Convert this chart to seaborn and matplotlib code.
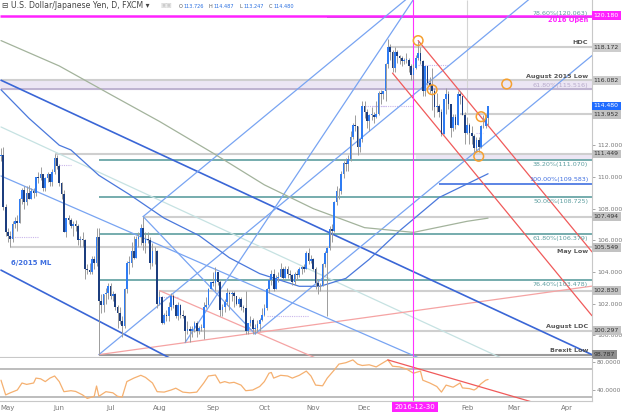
import numpy as np
import pandas as pd
import matplotlib.pyplot as plt
import matplotlib.transforms as mtransforms
import seaborn as sns

sns.set_theme(style="white")
plt.rcParams["font.family"] = ["DejaVu Sans"]

# daily USD/JPY candles, weekdays from 2016-04-27 to 2017-02-14
opens = [
    111.3, 111.4, 108.1,
    106.5, 106.3, 106.1, 107.0, 107.2, 107.1, 108.6, 109.2, 108.4, 109.0, 108.6,
    109.1, 109.0, 110.0, 109.9, 110.2, 109.3, 109.9, 110.2, 109.7, 110.3, 111.2,
    110.7, 109.6, 108.9, 106.5, 107.4, 107.3, 106.9, 107.0, 106.9, 106.0, 106.1,
    106.0, 104.2, 104.1, 104.0, 104.8, 104.6, 106.2, 102.2, 101.9, 102.6, 102.7,
    103.1, 102.5, 102.6, 101.8, 101.4, 100.9, 100.6, 102.9, 104.6, 104.6, 105.3,
    104.9, 106.1, 106.2, 106.8, 105.8, 106.1, 106.0, 104.6, 105.3, 105.3,
    102.0, 102.4, 100.8, 101.3, 101.2, 101.8, 102.5, 101.9, 101.2, 101.9, 101.3,
    101.2, 100.3, 100.4, 100.3, 100.4, 100.8, 100.3, 100.5, 100.5, 101.8, 101.9, 102.9,
    103.4, 103.3, 104.0, 103.4, 101.6, 101.8, 102.1, 102.7, 102.6, 102.7, 102.5,
    102.0, 102.3, 101.8, 101.7, 100.3, 100.8, 101.0, 100.4, 100.5, 100.7, 101.0,
    101.3, 101.7, 102.9, 103.5, 103.9, 102.9, 103.6, 103.7, 104.2, 103.6, 104.2,
    103.9, 103.8, 103.4, 103.9, 103.8, 104.2, 104.3, 104.2, 105.2, 104.7,
    104.8, 104.2, 103.3, 103.1, 103.1, 104.5, 105.2, 105.5, 106.7, 106.6, 108.4,
    109.1, 109.1, 110.2, 110.9, 110.8, 111.1, 112.5, 113.3, 113.2, 111.9, 112.4,
    114.5, 114.1, 113.5, 113.9, 113.9, 113.8, 114.0, 115.3, 115.2, 115.4, 117.1,
    118.17, 117.9, 116.9, 117.9, 117.6, 117.5, 117.3, 117.4, 117.4, 117.0, 116.4,
    116.9, 117.5, 117.8, 117.3, 115.4, 117.0, 115.9, 115.8, 115.4, 114.4, 114.5,
    114.1, 112.7, 114.9, 115.2, 114.6, 113.1, 113.8, 113.3, 115.2, 115.1, 113.9,
    112.8, 113.3, 112.8, 112.6, 111.8, 112.3, 111.9, 113.2, 113.2, 113.726,
]
highs = [
    111.8, 111.9, 108.3,
    106.8, 106.6, 107.2, 107.5, 107.6, 108.7, 109.3, 109.4, 109.4, 109.5, 109.3,
    109.3, 110.0, 110.3, 110.6, 110.2, 110.0, 110.3, 110.2, 110.5, 111.45, 111.4,
    110.8, 109.7, 109.2, 107.4, 107.6, 107.4, 107.2, 107.3, 107.0, 106.3, 106.5,
    106.1, 104.5, 104.6, 105.0, 105.0, 106.8, 106.8, 102.6, 102.6, 103.0, 103.3,
    103.3, 102.8, 102.7, 101.9, 101.8, 101.2, 103.0, 104.7, 105.0, 105.9, 106.3,
    106.3, 106.5, 107.0, 107.5, 106.5, 106.5, 106.2, 105.8, 105.6, 105.4,
    102.8, 102.5, 101.4, 101.6, 102.1, 102.7, 102.6, 102.0, 102.1, 102.0, 101.6,
    101.3, 100.9, 100.6, 100.6, 100.9, 100.9, 100.6, 100.7, 102.1, 102.4, 103.0, 103.4,
    104.0, 104.3, 104.0, 103.5, 102.0, 102.3, 103.0, 102.8, 102.8, 102.8, 102.5,
    102.4, 102.4, 101.9, 102.8, 100.8, 101.2, 101.1, 100.7, 101.0, 101.1, 101.7,
    102.0, 103.0, 103.6, 104.1, 104.2, 103.8, 104.0, 104.6, 104.3, 104.4, 104.4,
    104.1, 103.9, 104.0, 104.1, 104.3, 104.4, 104.5, 105.3, 105.5, 105.1,
    104.9, 104.3, 103.5, 103.3, 104.6, 105.3, 105.6, 106.9, 107.0, 108.5, 109.4,
    109.3, 110.4, 111.0, 111.2, 111.4, 112.9, 113.4, 113.9, 113.2, 112.4, 114.8,
    114.8, 114.3, 114.0, 114.4, 114.1, 114.8, 115.4, 115.5, 115.4, 117.2, 118.67,
    118.4, 118.0, 118.2, 118.0, 117.7, 117.6, 117.5, 117.8, 117.5, 117.1, 117.1,
    117.7, 118.6, 118.2, 117.4, 117.0, 117.0, 116.3, 116.9, 115.6, 115.3, 114.6,
    114.3, 114.9, 115.6, 115.4, 114.6, 114.0, 114.0, 115.4, 115.4, 115.1, 114.1,
    113.8, 113.4, 113.2, 112.7, 112.5, 112.5, 113.3, 113.9, 114.0, 114.487,
]
lows = [
    111.0, 107.9, 106.3,
    105.9, 105.55, 105.9, 106.8, 106.6, 107.1, 108.3, 108.0, 108.2, 108.6, 108.6,
    108.7, 108.8, 109.6, 109.8, 109.1, 109.1, 109.7, 109.4, 109.4, 110.2, 110.5,
    109.4, 108.6, 106.5, 106.2, 107.0, 106.8, 106.3, 106.6, 105.7, 105.6, 105.6,
    103.55, 103.9, 103.9, 103.9, 104.2, 104.4, 98.79, 101.4, 101.5, 102.0, 102.3,
    102.3, 102.2, 101.6, 100.5, 100.7, 99.9, 100.5, 102.7, 103.9, 104.3, 104.8,
    104.9, 105.6, 105.7, 105.4, 105.2, 105.8, 104.2, 104.4, 104.5, 101.7,
    101.9, 100.7, 100.7, 100.9, 100.9, 101.6, 101.7, 101.1, 101.0, 101.1, 101.1,
    99.6, 100.1, 99.6, 99.9, 100.2, 99.9, 100.1, 100.3, 99.8, 101.7, 101.9, 102.9,
    103.1, 102.8, 103.2, 101.2, 101.2, 101.5, 101.9, 101.6, 102.2, 101.8, 101.9,
    101.8, 101.6, 101.5, 100.1, 100.1, 100.6, 100.1, 100.1, 100.2, 100.3, 100.9,
    101.2, 101.6, 102.7, 103.2, 102.8, 102.9, 103.4, 103.7, 103.5, 103.6, 103.6,
    103.5, 103.2, 103.2, 103.5, 103.7, 103.9, 104.0, 104.2, 104.5, 104.6,
    104.1, 102.9, 102.6, 102.8, 103.1, 104.3, 101.2, 105.4, 105.9, 106.5, 108.2,
    108.6, 108.9, 109.9, 110.4, 110.4, 111.0, 112.4, 112.9, 111.4, 111.6, 112.2,
    113.7, 113.1, 112.9, 113.6, 113.4, 113.7, 113.9, 114.6, 114.9, 114.8, 116.9,
    117.4, 116.6, 116.6, 117.2, 117.1, 117.0, 117.1, 117.2, 116.6, 116.1, 116.1,
    116.8, 117.4, 117.1, 115.1, 115.1, 115.8, 115.3, 114.2, 113.8, 114.1, 113.8,
    112.6, 112.7, 114.0, 114.3, 112.5, 112.9, 113.0, 113.3, 114.6, 113.9, 112.1,
    112.7, 112.1, 112.1, 111.6, 111.6, 111.6, 111.8, 113.1, 113.1, 113.247,
]
closes = [
    111.4, 108.1, 106.5,
    106.3, 106.1, 107.0, 107.2, 107.1, 108.6, 109.2, 108.4, 109.0, 108.6, 109.1,
    109.0, 110.0, 109.9, 110.2, 109.3, 109.9, 110.2, 109.7, 110.3, 111.2, 110.7,
    109.6, 108.9, 106.5, 107.4, 107.3, 106.9, 107.0, 106.9, 106.0, 106.1, 106.0,
    104.2, 104.1, 104.0, 104.8, 104.6, 106.2, 102.2, 101.9, 102.6, 102.7, 103.1,
    102.5, 102.6, 101.8, 101.4, 100.9, 100.6, 102.9, 104.6, 104.6, 105.3, 104.9,
    106.1, 106.2, 106.8, 105.8, 106.1, 106.0, 104.6, 105.3, 105.3, 102.0,
    102.4, 100.8, 101.3, 101.2, 101.8, 102.5, 101.9, 101.2, 101.9, 101.3, 101.2,
    100.3, 100.4, 100.3, 100.4, 100.8, 100.3, 100.5, 100.5, 101.8, 101.9, 102.9, 103.4,
    103.3, 104.0, 103.4, 101.6, 101.8, 102.1, 102.7, 102.6, 102.7, 102.5, 102.0,
    102.3, 101.8, 101.7, 100.3, 100.8, 101.0, 100.4, 100.5, 100.7, 101.0, 101.3,
    101.7, 102.9, 103.5, 103.9, 102.9, 103.6, 103.7, 104.2, 103.6, 104.2, 103.9,
    103.8, 103.4, 103.9, 103.8, 104.2, 104.3, 104.2, 105.2, 104.7, 104.8,
    104.2, 103.3, 103.1, 103.1, 104.5, 105.2, 105.5, 106.7, 106.6, 108.4, 109.1,
    109.1, 110.2, 110.9, 110.8, 111.1, 112.5, 113.3, 113.2, 111.9, 112.4, 114.5,
    114.1, 113.5, 113.9, 113.9, 113.8, 114.0, 115.3, 115.2, 115.4, 117.1, 118.17,
    117.9, 116.9, 117.9, 117.6, 117.5, 117.3, 117.4, 117.4, 117.0, 116.4, 116.9,
    117.5, 117.8, 117.3, 115.4, 117.0, 115.9, 115.8, 115.4, 114.4, 114.5, 114.1,
    112.7, 114.9, 115.2, 114.6, 113.1, 113.8, 113.3, 115.2, 115.1, 113.9, 112.8,
    113.3, 112.8, 112.6, 111.8, 112.3, 111.9, 113.2, 113.2, 113.7, 114.480,
]

# RSI of the lower panel
rsi_dates = [
    "2016-04-27", "2016-04-29", "2016-05-03", "2016-05-06", "2016-05-10", "2016-05-12",
    "2016-05-17", "2016-05-18", "2016-05-20", "2016-05-24", "2016-05-26", "2016-05-30",
    "2016-06-01", "2016-06-03", "2016-06-08", "2016-06-10", "2016-06-15", "2016-06-17",
    "2016-06-22", "2016-06-23", "2016-06-24", "2016-06-29", "2016-07-04", "2016-07-06",
    "2016-07-08", "2016-07-12", "2016-07-15", "2016-07-20", "2016-07-22", "2016-07-27",
    "2016-07-29", "2016-08-03", "2016-08-08", "2016-08-10", "2016-08-15", "2016-08-18",
    "2016-08-23", "2016-08-26", "2016-08-30", "2016-09-02", "2016-09-06", "2016-09-08",
    "2016-09-12", "2016-09-14", "2016-09-19", "2016-09-21", "2016-09-26", "2016-09-29",
    "2016-10-03", "2016-10-05", "2016-10-06", "2016-10-07", "2016-10-12", "2016-10-17",
    "2016-10-19", "2016-10-24", "2016-10-27", "2016-10-31", "2016-11-02", "2016-11-07",
    "2016-11-09", "2016-11-14", "2016-11-16", "2016-11-21", "2016-11-24", "2016-11-28",
    "2016-11-30", "2016-12-05", "2016-12-08", "2016-12-13", "2016-12-15", "2016-12-19",
    "2016-12-22", "2016-12-27", "2016-12-30", "2017-01-04", "2017-01-05", "2017-01-10",
    "2017-01-13", "2017-01-17", "2017-01-19", "2017-01-24", "2017-01-27", "2017-01-30",
    "2017-02-02", "2017-02-06", "2017-02-07", "2017-02-09", "2017-02-13", "2017-02-14",
]
rsi_values = [
    54, 33, 36, 40, 50, 48,
    50, 57, 56, 52, 57, 60,
    52, 37.6, 39, 38, 33, 28,
    31, 45.7, 31, 37.6, 36, 31,
    30, 52, 57, 61, 58, 50,
    37.6, 37, 40, 42.6, 37, 36,
    37, 50, 60, 61.4, 50, 52,
    50, 51, 47, 39, 40, 45,
    52, 64, 65, 57, 61, 60,
    57, 61, 67, 60, 47, 46,
    57, 68.6, 77, 79, 83, 77,
    75, 76, 73, 79, 83, 74,
    73, 70, 64, 67, 54, 50,
    45, 37, 47, 44, 50, 43,
    42, 40, 42, 49, 54, 55,
]

# moving averages drawn on the price panel (read at a few dates)
ma_blue_dates = ["2016-04-27", "2016-05-13", "2016-06-01", "2016-06-08", "2016-06-24", "2016-07-13",
                 "2016-08-03", "2016-08-24", "2016-09-12", "2016-09-29", "2016-10-24", "2016-11-04",
                 "2016-11-21", "2016-12-05", "2016-12-22", "2017-01-16", "2017-02-14"]
ma_blue_values = [115.5, 113.7, 112.0, 111.7, 110.1, 108.9,
                  107.4, 106.3, 104.9, 103.9, 103.1, 103.1,
                  103.6, 104.8, 106.6, 108.7, 110.2]
ma_grey_dates = ["2016-04-27", "2016-06-01", "2016-07-01", "2016-08-01", "2016-09-01", "2016-10-03",
                 "2016-11-01", "2016-12-01", "2016-12-30", "2017-02-01", "2017-02-14"]
ma_grey_values = [118.6, 117.0, 115.2, 113.5, 111.5, 109.5,
                  108.0, 106.8, 106.5, 107.2, 107.4]

# horizontal levels (grey) with right-hand price tags
level_prices = [118.172, 116.082, 113.952, 111.449, 107.494, 105.549, 102.830, 100.297, 98.787]
level_starts = ["2016-12-15", "2016-04-27", "2017-01-27", "2016-05-30", "2016-07-21",
                "2016-05-03", "2016-08-01", "2016-08-18", "2016-06-24"]
level_names = ["HDC", "August 2015 Low", "", "", "", "May Low", "", "August LDC", "Brexit Low"]
name_below = ["May Low"]

# fibonacci levels
fib_prices = [120.063, 115.516, 111.070, 109.583, 108.725, 106.379, 103.478]
fib_starts = ["2016-11-09", "2016-04-27", "2016-06-24", "2017-01-16", "2016-06-24",
              "2016-06-24", "2016-06-24"]
fib_labels = ["78.60%(120.063)", "61.80%(115.516)", "38.20%(111.070)", "100.00%(109.583)",
              "50.00%(108.725)", "61.80%(106.379)", "76.40%(103.478)"]
fib_colors = ["#5e9ea0", "#b7aacb", "#5e9ea0", "#3f6fe0", "#5e9ea0", "#5e9ea0", "#5e9ea0"]
fib_above = [True, True, False, True, False, False, False]

# dotted reference marks
dot_starts = ["2016-05-02", "2016-06-01", "2016-08-01", "2016-10-04", "2016-12-01", "2016-12-06",
              "2017-01-03", "2017-02-07"]
dot_ends = ["2016-05-19", "2016-06-08", "2016-08-11", "2016-10-28", "2016-12-14", "2016-12-30",
            "2017-01-20", "2017-02-10"]
dot_prices = [106.2, 110.75, 102.4, 101.2, 114.5, 114.5, 117.05, 112.8]

# trend lines: start date, start price, second date, second price
red_lines = [("2017-01-03", 118.6, "2017-04-18", 105.2),
             ("2016-12-19", 116.55, "2017-04-18", 101.17)]
pink_lines = [("2016-06-24", 98.79, "2017-04-18", 103.12),
              ("2016-08-01", 102.83, "2016-11-01", 98.64)]
blue_dark = [("2016-04-27", 116.1, "2017-04-18", 98.76),
             ("2016-04-27", 104.12, "2016-08-11", 98.3)]
blue_mid = [("2016-04-27", 110.06, "2017-01-03", 98.6),
            ("2016-06-24", 98.79, "2017-02-08", 118.58),
            ("2016-07-21", 107.5, "2016-12-08", 119.64),
            ("2016-09-27", 100.1, "2017-02-14", 112.24),
            ("2016-08-16", 99.55, "2016-10-04", 107.28)]
blue_seg = [("2016-07-21", 107.5, "2016-09-27", 100.1)]
teal_light = [("2016-04-27", 113.15, "2016-12-22", 101.54)]
rsi_trend = ("2016-12-15", 83, "2017-03-08", 25.7)

circle_dates = ["2017-01-03", "2017-01-11", "2017-02-09", "2017-02-08", "2017-02-24"]
circle_prices = [118.6, 115.5, 113.8, 111.3, 115.86]

month_labels = ["May", "Jun", "Jul", "Aug", "Sep", "Oct", "Nov", "Dec", "", "Feb", "Mar", "Apr"]

# ---------------------------------------------------------------------------
days = pd.bdate_range("2016-04-27", "2017-04-28")
pos = {d: i for i, d in enumerate(days)}
def ix(day):
    return pos[pd.Timestamp(day)]

n = len(closes)
xs = np.arange(n)
x_left, x_right = -0.43, 253.6

fig = plt.figure(figsize=(6.24, 4.13), dpi=100)
ax = fig.add_axes([0, 1 - 357 / 413, 592 / 624, 357 / 413])
rax = fig.add_axes([0, 1 - 401 / 413, 592 / 624, 43 / 413])
for a in (ax, rax):
    a.set_xlim(x_left, x_right)
    a.set_facecolor("white")
    for s in ("top", "left"):
        a.spines[s].set_visible(False)
    for s in ("right", "bottom"):
        a.spines[s].set_color("#c8c8c8")
        a.spines[s].set_linewidth(0.8)
ax.set_ylim(98.64, 121.16)
rax.set_ylim(24.3, 85.7)

# ---- horizontal bands and levels ----
ax.axhspan(115.516, 116.082, color="#ece6f4", zorder=0.5)
ax.fill_between([ix("2017-01-02"), x_right], 111.2, 111.449, color="#ece6f4", zorder=0.5)
for p, s in zip(level_prices, level_starts):
    c = "#9a9a9a" if p == 98.787 else "#cfcfcf"
    ax.hlines(p, ix(s), x_right, color=c, lw=1.5, zorder=1)
for p, s, c in zip(fib_prices, fib_starts, fib_colors):
    ax.hlines(p, ix(s), x_right, color=c, lw=1.2, zorder=1.1)
ax.hlines(120.18, x_left, x_right, color="#ff22ff", lw=1.8, zorder=1.2)
for s, e, p in zip(dot_starts, dot_ends, dot_prices):
    ax.hlines(p, ix(s), ix(e), color="#c9b6ea", lw=0.8, linestyles=(0, (1, 1)), zorder=1)

# ---- moving averages ----
ma_blue = pd.DataFrame({"x": [ix(d) for d in ma_blue_dates], "v": ma_blue_values})
ma_grey = pd.DataFrame({"x": [ix(d) for d in ma_grey_dates], "v": ma_grey_values})
sns.lineplot(data=ma_blue, x="x", y="v", ax=ax, color="#4a78dc", lw=0.9, zorder=1.7)
sns.lineplot(data=ma_grey, x="x", y="v", ax=ax, color="#a3b39c", lw=0.9, zorder=1.7)

# ---- trend lines ----
def ray(a, line, end=None, **kw):
    d0, p0, d1, p1 = line
    x0, x1 = ix(d0), ix(d1)
    slope = (p1 - p0) / (x1 - x0)
    xe = x_right if end is None else x1
    a.plot([x0, xe], [p0, p0 + slope * (xe - x0)], **kw)

for ln in red_lines:
    ray(ax, ln, color="#f05a5a", lw=0.9, zorder=2)
for ln in pink_lines:
    ray(ax, ln, color="#f5a3a3", lw=0.9, zorder=1.5)
for ln in teal_light:
    ray(ax, ln, color="#c6e2e2", lw=0.9, zorder=1.4)
for ln in blue_dark:
    ray(ax, ln, color="#3a66d6", lw=1.2, zorder=1.6)
for ln in blue_mid:
    ray(ax, ln, color="#78a4f2", lw=0.9, zorder=1.6)
for ln in blue_seg:
    ray(ax, ln, end=True, color="#78a4f2", lw=0.9, zorder=1.6)

# ---- candles ----
o, h, l, c = map(np.array, (opens, highs, lows, closes))
up = c >= o
ax.vlines(xs, l, h, color="#9c9c9c", lw=0.7, zorder=3)
body_bot = np.minimum(o, c)
body_h = np.maximum(np.abs(c - o), 0.04)
ax.bar(xs[up], body_h[up], bottom=body_bot[up], width=0.72, color="#2f7cf3", zorder=4, linewidth=0)
ax.bar(xs[~up], body_h[~up], bottom=body_bot[~up], width=0.72, color="#1c3d7e", zorder=4, linewidth=0)

ax.scatter([ix(d) for d in circle_dates], circle_prices, s=48, facecolors="none",
           edgecolors="#f5a030", linewidths=1.1, zorder=6)

# date marker
vx = ix("2016-12-30")
for a in (ax, rax):
    a.axvline(vx, color="#ff33ff", lw=0.8, zorder=2.5)
ax.vlines(ix("2017-02-01"), 113.952, 121.16, color="#d4d4d4", lw=0.8, zorder=0.8)

# ---- axis ticks ----
ax.set_xlabel("")
ax.set_ylabel("")
ax.set_xticks([])
ax.yaxis.tick_right()
ax.set_yticks([100, 102, 104, 106, 108, 110, 112])
ax.set_yticklabels([f"{v:.3f}" for v in [100, 102, 104, 106, 108, 110, 112]])
ax.tick_params(axis="y", length=2.5, width=0.6, color="#999999", pad=1, labelsize=4.4,
               labelcolor="#777777")

month_pos = []
for m in pd.date_range("2016-05-01", "2017-04-01", freq="MS"):
    month_pos.append(ix(pd.bdate_range(m, m + pd.Timedelta(days=6))[0]))
rax.set_xticks(month_pos)
rax.set_xticklabels(month_labels)
rax.tick_params(axis="x", length=0, pad=3, labelsize=5, labelcolor="#777777")
rax.yaxis.tick_right()
rax.set_yticks([40, 80])
rax.set_yticklabels(["40.0000", "80.0000"])
rax.tick_params(axis="y", length=2.5, width=0.6, color="#999999", pad=1, labelsize=4.2,
                labelcolor="#777777")

# ---- RSI ----
rax.axhline(70, color="#b8b8b8", lw=1.3)
rax.axhline(30, color="#b8b8b8", lw=1.3)
rsi_df = pd.DataFrame({"x": [ix(d) for d in rsi_dates], "rsi": rsi_values})
sns.lineplot(data=rsi_df, x="x", y="rsi", ax=rax, color="#f5b070", lw=0.9)
ray(rax, rsi_trend, color="#f05a5a", lw=0.9)
rax.set_xlabel("")
rax.set_ylabel("")

# ---- right-hand price tags ----
tr = mtransforms.blended_transform_factory(ax.transAxes, ax.transData)
def tag(price, face, fg):
    ax.text(1.003, price, f"{price:.3f}", transform=tr, fontsize=4.4, color=fg, va="center",
            ha="left", clip_on=False, zorder=10,
            bbox=dict(boxstyle="square,pad=0.3", fc=face, ec="none"))

for p in level_prices:
    face = "#8f8f8f" if p == 98.787 else ("#cdcdcd" if p in (118.172, 116.082) else "#c2c2c2")
    tag(p, face, "#333333")
tag(120.180, "#ff22ff", "white")
tag(114.480, "#1f6cff", "white")

# ---- level names and fib labels ----
lx = 588 / 592
for p, name in zip(level_prices, level_names):
    if name:
        below = name in name_below
        ax.text(lx, p - 0.12 if below else p + 0.12, name, transform=tr, fontsize=4.6,
                color="#555555", fontweight="bold", ha="right",
                va="top" if below else "bottom", zorder=7)
ax.text(lx, 120.06, "2016 Open", transform=tr, fontsize=4.8, color="#ff22ff",
        fontweight="bold", ha="right", va="top", zorder=7)
for p, lab, col, above in zip(fib_prices, fib_labels, fib_colors, fib_above):
    ax.text(lx, p + (0.1 if above else -0.12), lab, transform=tr, fontsize=4.6, color=col,
            ha="right", va="bottom" if above else "top", zorder=7)
ax.text(ix("2016-05-16"), 104.55, "6/2015 ML", fontsize=5, color="#3f6fe0",
        fontweight="bold", ha="center", va="center", zorder=7)

# ---- header and date box ----
fig.text(2 / 624, 1 - 6 / 413, "\u229f U.S. Dollar/Japanese Yen, D, FXCM \u25be", fontsize=5.6,
         color="#444444", va="center", ha="left")
fig.text(160 / 624, 1 - 6 / 413, "\u25a3\u25a3", fontsize=4.5, color="#cccccc", va="center")
hx = 179
for key, val in [("O", "113.726"), ("H", "114.487"), ("L", "113.247"), ("C", "114.480")]:
    fig.text(hx / 624, 1 - 6 / 413, key, fontsize=3.6, color="#555555", va="center")
    fig.text((hx + 5) / 624, 1 - 6 / 413, val, fontsize=3.6, color="#2a6fe0", va="center")
    hx += 30
fig.text(415 / 624, 1 - 407 / 413, "2016-12-30", fontsize=5, color="white", ha="center",
         va="center", bbox=dict(boxstyle="square,pad=0.35", fc="#ff22ff", ec="none"))

fig.savefig("out.png", dpi=100)
